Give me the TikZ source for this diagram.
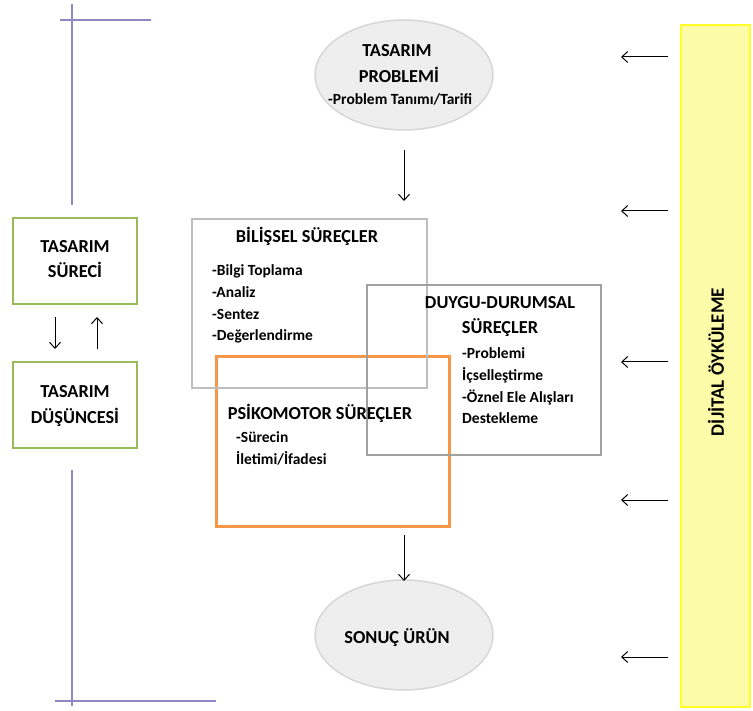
\documentclass[tikz,border=0pt]{standalone}
\usepackage{fontspec}
\setmainfont{Carlito}
\usetikzlibrary{arrows.meta,shapes.geometric}
\definecolor{ovalfill}{RGB}{238,238,238}
\definecolor{ovaledge}{RGB}{215,215,215}
\definecolor{lightframe}{RGB}{190,190,190}
\definecolor{darkframe}{RGB}{160,160,160}
\definecolor{orangeframe}{RGB}{247,150,70}
\definecolor{greenframe}{RGB}{155,187,89}
\definecolor{stripfill}{RGB}{252,252,168}
\definecolor{stripedge}{RGB}{255,255,40}
\definecolor{axisline}{RGB}{145,135,195}
\tikzset{
  oval/.style={ellipse, draw=ovaledge, fill=ovalfill, line width=1.5pt,
    minimum width=178pt, minimum height=110pt, inner sep=0pt},
  frame/.style={rectangle, line width=2.5pt, inner sep=0pt},
  title/.style={font=\bfseries\fontsize{18.3}{22}\selectfont, inner sep=0pt},
  item/.style={font=\bfseries\fontsize{15.5}{19}\selectfont, inner sep=0pt,
    text height=11pt, text depth=3.5pt, anchor=west},
  flow/.style={line width=1pt, -{Straight Barb[length=6pt,width=11pt]}},
  axis/.style={draw=axisline, line width=1.3pt}
}
\begin{document}
\begin{tikzpicture}[x=1pt,y=-1pt]
\useasboundingbox (0,0) rectangle (753,711);

% side axes
\draw[axis] (72,4) -- (72,205);
\draw[axis] (60,20) -- (151,20);
\draw[axis] (72,470) -- (72,706);
\draw[axis] (55,701) -- (216,701);

% design problem
\node[oval] (prob) at (404,75) {};
\node[title] (probA) at (397,51) {TASARIM};
\node[title] (probB) at (399,75) {PROBLEMİ};
\node[item] (probC) at (328,101) {-Problem Tanımı/Tarifi};

% process frames
\node[frame, draw=orangeframe, minimum width=233pt, minimum height=170pt] (psi) at (333,441.5) {};
\node[frame, draw=lightframe, minimum width=235pt, minimum height=169pt] (bil) at (309.5,303.5) {};
\node[frame, draw=darkframe, minimum width=234pt, minimum height=170pt] (duy) at (484,370) {};

\node[title] (bilT) at (307,236) {BİLİŞSEL SÜREÇLER};
\node[item] (bil1) at (212,272) {-Bilgi Toplama};
\node[item] (bil2) at (212,294) {-Analiz};
\node[item] (bil3) at (212,316) {-Sentez};
\node[item] (bil4) at (212,337) {-Değerlendirme};

\node[title] (duyA) at (500,303) {DUYGU-DURUMSAL};
\node[title] (duyB) at (500,328) {SÜREÇLER};
\node[item] (duy1) at (462,355) {-Problemi};
\node[item] (duy2) at (462,377) {İçselleştirme};
\node[item] (duy3) at (462,399) {-Öznel Ele Alışları};
\node[item] (duy4) at (462,420) {Destekleme};

\node[title] (psiT) at (320,413) {PSİKOMOTOR SÜREÇLER};
\node[item] (psi1) at (236,439) {-Sürecin};
\node[item] (psi2) at (236,461) {İletimi/İfadesi};

% result
\node[oval] (res) at (404,635) {};
\node[title] (resT) at (397,638) {SONUÇ ÜRÜN};

% main flow
\coordinate (f1s) at (404,150);
\coordinate (f1e) at (404,201);
\coordinate (f2s) at (404,535);
\coordinate (f2e) at (404,581);
\draw[flow] (f1s) -- (f1e);
\draw[flow] (f2s) -- (f2e);

% design process / design thinking
\node[frame, draw=greenframe, minimum width=124pt, minimum height=86pt] (sur) at (75,261) {};
\node[title] (surA) at (75,247) {TASARIM};
\node[title] (surB) at (75,270) {SÜRECİ};
\node[frame, draw=greenframe, minimum width=124pt, minimum height=86pt] (dus) at (75,405) {};
\node[title] (dusA) at (75,392) {TASARIM};
\node[title] (dusB) at (75,417) {DÜŞÜNCESİ};
\coordinate (d1s) at (55,317);
\coordinate (d1e) at (55,349);
\coordinate (d2s) at (97,349);
\coordinate (d2e) at (97,317);
\draw[flow] (d1s) -- (d1e);
\draw[flow] (d2s) -- (d2e);

% digital storytelling strip
\node[frame, draw=stripedge, fill=stripfill, line width=2pt, minimum width=69pt, minimum height=681pt] (dig) at (715,366) {};
\node[font=\bfseries\fontsize{19}{22}\selectfont, inner sep=0pt, rotate=90] (digT) at (716,362) {DİJİTAL ÖYKÜLEME};
\foreach \k/\yy in {1/57, 2/211, 3/362, 4/500, 5/657} {
  \coordinate (s\k) at (668,\yy);
  \coordinate (e\k) at (621,\yy);
  \draw[flow] (s\k) -- (e\k);
}
\end{tikzpicture}
\end{document}
